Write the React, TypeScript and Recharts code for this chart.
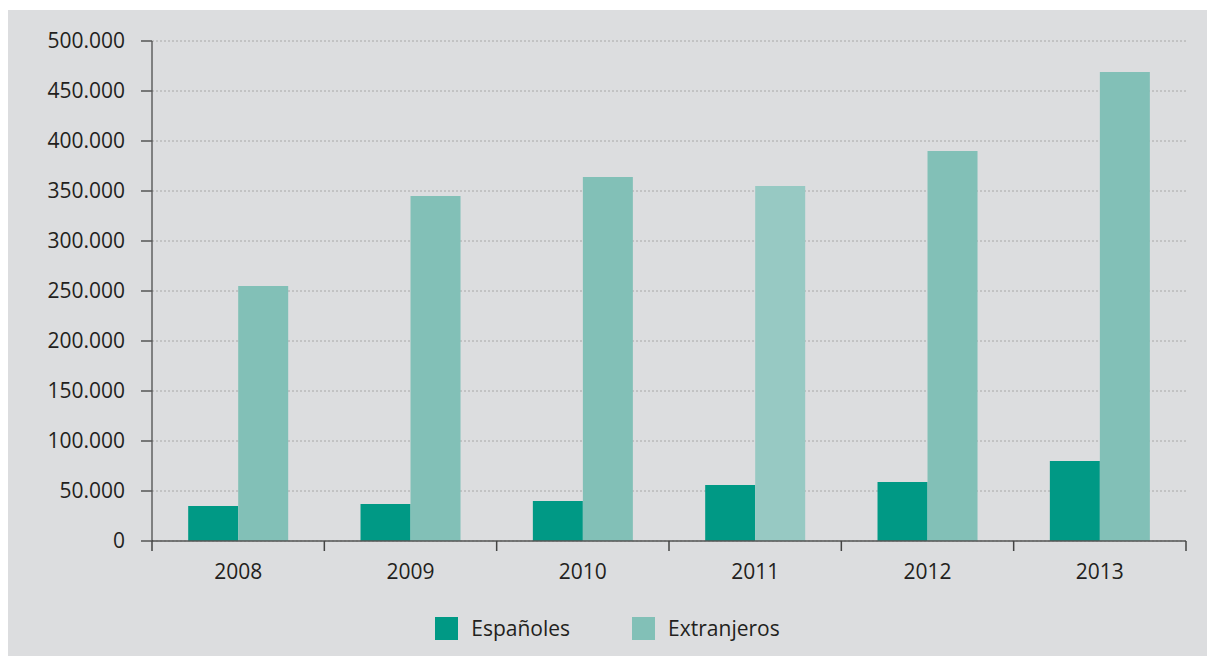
import { Bar, BarChart, CartesianGrid, Cell, Legend, XAxis, YAxis } from "recharts";

const years = ["2008", "2009", "2010", "2011", "2012", "2013"];
const espanoles = [35000, 37000, 40000, 56000, 59000, 80000];
const extranjeros = [255000, 345000, 364000, 355000, 390000, 469000];
const yTicks = [0, 50000, 100000, 150000, 200000, 250000, 300000, 350000, 400000, 450000, 500000];

const data = years.map((year, i) => ({ year, espanoles: espanoles[i], extranjeros: extranjeros[i] }));

const W = 1199;
const H = 646;
const M = { top: 31, right: 21, left: 0, bottom: 57 };
const Y_W = 144;
const BAND = (W - M.right - Y_W) / years.length;
const FONT = "'Open Sans', sans-serif";
const DARK = "#009985";
const LIGHT = "#82c0b7";
const LIGHT_2011 = "#97c9c3";

const fmt = (v: number) => String(v).replace(/\B(?=(\d{3})+(?!\d))/g, ".");

function YearTick(props: any) {
  const { x, y, payload, index } = props;
  const left = x - BAND / 2;
  const right = x + BAND / 2;
  return (
    <g>
      <line x1={left} x2={left} y1={y - 8} y2={y + 2} stroke="#444" strokeWidth={1.5} />
      {index === years.length - 1 && (
        <line x1={right} x2={right} y1={y - 8} y2={y + 2} stroke="#444" strokeWidth={1.5} />
      )}
      <text x={x} y={y + 30} textAnchor="middle" fontSize={21} fontFamily={FONT} fill="#231f20">
        {payload.value}
      </text>
    </g>
  );
}

function LegendBox(props: any) {
  const items = props.payload || [];
  return (
    <div style={{ display: "flex", justifyContent: "center", gap: 62, fontFamily: FONT, fontSize: 21, color: "#231f20" }}>
      {items.map((it: any) => (
        <div key={it.value} style={{ display: "flex", alignItems: "center", gap: 13 }}>
          <span style={{ width: 23, height: 23, background: it.color, display: "inline-block" }} />
          <span>{it.value}</span>
        </div>
      ))}
    </div>
  );
}

export default function App() {
  return (
    <div style={{ position: "absolute", left: 8, top: 10, width: W, height: H, background: "#dcdddf" }}>
      <BarChart width={W} height={H} data={data} margin={M} barGap={0} barCategoryGap="21%">
        <CartesianGrid horizontal vertical={false} stroke="#a8a8a8" strokeDasharray="2 2" />
        <XAxis
          dataKey="year"
          tickLine={false}
          axisLine={{ stroke: "#555", strokeWidth: 1.5 }}
          tick={<YearTick />}
          interval={0}
        />
        <YAxis
          width={Y_W}
          domain={[0, 500000]}
          ticks={yTicks}
          tickFormatter={fmt}
          tickSize={11}
          tickMargin={16}
          tickLine={{ stroke: "#555", strokeWidth: 1.5 }}
          axisLine={{ stroke: "#222" }}
          tick={{ fontSize: 21, fontFamily: FONT, fill: "#231f20" }}
        />
        <Legend verticalAlign="bottom" content={<LegendBox />} wrapperStyle={{ top: 604, left: 0, width: W }} />
        <Bar dataKey="espanoles" name="Españoles" fill={DARK} isAnimationActive={false} />
        <Bar dataKey="extranjeros" name="Extranjeros" fill={LIGHT} isAnimationActive={false}>
          {years.map((y) => (
            <Cell key={y} fill={y === "2011" ? LIGHT_2011 : LIGHT} />
          ))}
        </Bar>
      </BarChart>
    </div>
  );
}
